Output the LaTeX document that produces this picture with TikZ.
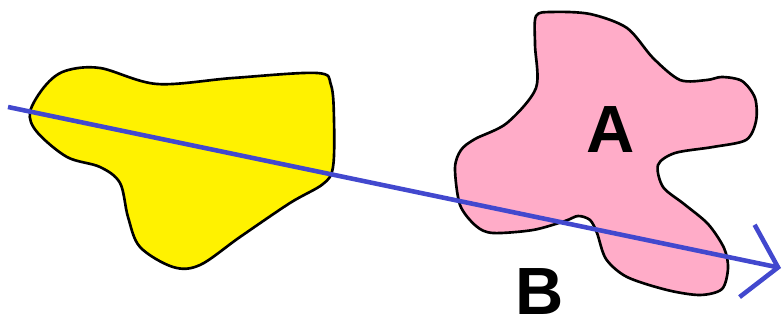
\documentclass[tikz,border=0pt]{standalone}
\usepackage{fontspec}
\setmainfont{Liberation Sans}
\usetikzlibrary{arrows.meta, positioning, calc}

\definecolor{blobyellow}{RGB}{255,242,0}
\definecolor{blobpink}{RGB}{255,172,200}
\definecolor{lineblue}{RGB}{66,72,206}

\begin{document}
\begin{tikzpicture}[x=0.01cm, y=-0.01cm,
    blob/.style={draw=black, line width=0.75pt, line join=round},
    letter/.style={font=\fontsize{19}{21}\selectfont\bfseries, inner sep=0pt}]
    % Frame
    \useasboundingbox (0,0) rectangle (783,322);
    
    % Yellow region
    \filldraw[blob, fill=blobyellow] plot[smooth cycle, tension=0.55] coordinates {
        (30,112) (45,86) (65,71) (100,68) (157,84) (233,78) (317,73) (331,85)
        (334,120) (333,167) (323,184) (290,203) (240,237) (200,265)
        (173,267) (140,247) (128,217) (120,183) (100,167) (67,157) (37,132)};
    
    % Pink region A
    \filldraw[blob, fill=blobpink] plot[smooth cycle, tension=0.5] coordinates {
        (536,16) (552,12) (590,14) (627,28) (653,58) (680,80) (707,80)
        (722,77) (742,81) (755,98) (756,121) (746,140) (713,147) (675,153)
        (658,165) (663,187) (684,204) (708,224) (724,248) (728,268)
        (722,289) (700,295) (667,290) (627,277) (606,259) (597,233)
        (590,220) (578,216) (565,221) (533,230) (493,233) (476,226)
        (460,205) (455,168) (461,150) (475,139) (507,123) (536,88) (535,45)};
    
    % Labels
    \node[letter] (labA) at (611,130) {A};
    \node[letter] (labB) at (540,292) {B};
    
    % Ray
    \coordinate (rayStart) at (8,107);
    \coordinate (rayEnd) at (781,268);
    \draw[lineblue, line width=1.3pt,
          -{Straight Barb[length=9pt, width=21pt, line width=1.3pt]}]
          (rayStart) -- (rayEnd);
\end{tikzpicture}
\end{document}
